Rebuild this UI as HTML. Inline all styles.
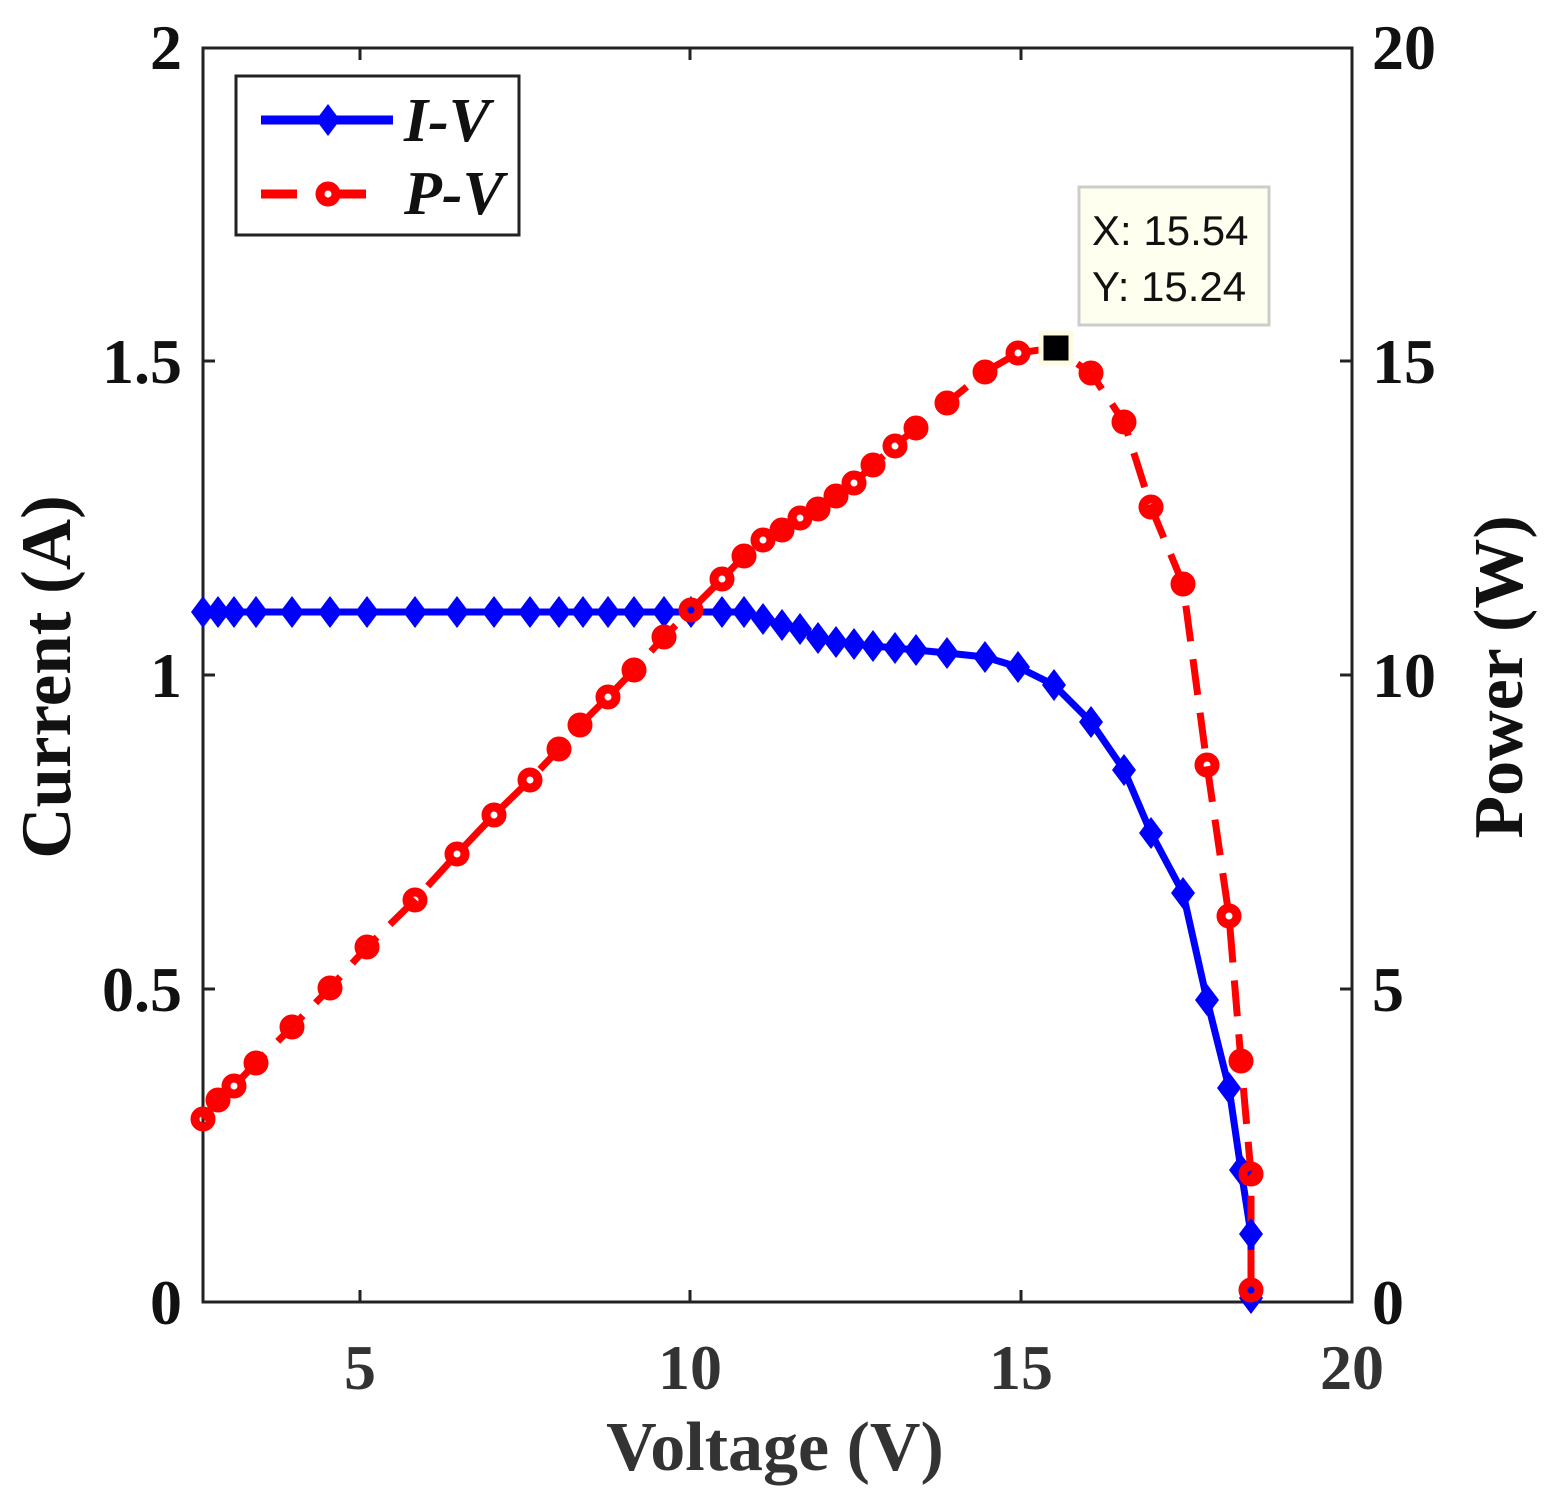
<!DOCTYPE html>
<html><head><style>body{margin:0;background:#fff}svg{display:block}</style></head><body>
<svg width="1553" height="1510" xmlns="http://www.w3.org/2000/svg" font-family="Liberation Serif, serif" font-weight="bold">
<rect width="1553" height="1510" fill="#fff"/>
<g stroke="#222" stroke-width="3">
<rect x="203" y="48" width="1149" height="1254" fill="none"/>
<path d="M360 1302v-12M690 1302v-12M1021 1302v-12M360 48v12M690 48v12M1021 48v12M203 361h12M203 675h12M203 989h12M1352 361h-12M1352 675h-12M1352 989h-12"/>
</g>
<g font-size="64" fill="#111" text-anchor="end">
<text x="182" y="69">2</text><text x="182" y="383">1.5</text><text x="182" y="697">1</text><text x="182" y="1011">0.5</text><text x="182" y="1324">0</text>
</g>
<g font-size="64" fill="#111" text-anchor="start">
<text x="1372" y="69">20</text><text x="1372" y="383">15</text><text x="1372" y="697">10</text><text x="1372" y="1011">5</text><text x="1372" y="1324">0</text>
</g>
<g font-size="64" fill="#333" text-anchor="middle">
<text x="360" y="1389">5</text><text x="690" y="1389">10</text><text x="1021" y="1389">15</text><text x="1352" y="1389">20</text>
</g>
<text x="775" y="1470" font-size="70" fill="#333" text-anchor="middle">Voltage (V)</text>
<text transform="translate(70,677) rotate(-90)" font-size="71" fill="#111" text-anchor="middle">Current (A)</text>
<text transform="translate(1522,677) rotate(-90)" font-size="70" fill="#111" text-anchor="middle">Power (W)</text>
<polyline fill="none" stroke="#0000ff" stroke-width="7" stroke-linejoin="round" points="203,612 218,612 234,612 256,612 292,612 330,612 367,612 415,612 457,612 494,612 530,612 559,612 583,612 608,612 634,612 664,612 691,612 722,612 744,612 763,619 782,625 800,629 818,638 836,642 854,644 873,646 895,648 916,650 947,653 985,657 1018,667 1054,685 1091,722 1124,770 1151,833 1183,893 1207,1000 1229,1088 1241,1170 1251,1234 1251,1298"/>
<polyline fill="none" stroke="#ff0000" stroke-width="7" stroke-dasharray="36,18" points="203,1119 218,1100 234,1086 256,1063 292,1027 330,988 367,947 415,900 457,854 494,815 530,780 559,749 580,725 608,697 634,670 664,637 691,610 722,579 744,556 763,540 782,530 800,518 818,509 836,496 854,483 873,465 895,446 916,428 947,403 985,372 1018,353 1054,348 1091,373 1124,422 1151,507 1183,584 1207,765 1229,916 1241,1061 1251,1174 1251,1290"/>
<g fill="#0000ff">
<path d="M203 596l12 16-12 16-12-16zM218 596l12 16-12 16-12-16zM234 596l12 16-12 16-12-16zM256 596l12 16-12 16-12-16zM292 596l12 16-12 16-12-16zM330 596l12 16-12 16-12-16zM367 596l12 16-12 16-12-16zM415 596l12 16-12 16-12-16zM457 596l12 16-12 16-12-16zM494 596l12 16-12 16-12-16zM530 596l12 16-12 16-12-16zM559 596l12 16-12 16-12-16zM583 596l12 16-12 16-12-16zM608 596l12 16-12 16-12-16zM634 596l12 16-12 16-12-16zM664 596l12 16-12 16-12-16zM691 596l12 16-12 16-12-16zM722 596l12 16-12 16-12-16zM744 596l12 16-12 16-12-16zM763 603l12 16-12 16-12-16zM782 609l12 16-12 16-12-16zM800 613l12 16-12 16-12-16zM818 622l12 16-12 16-12-16zM836 626l12 16-12 16-12-16zM854 628l12 16-12 16-12-16zM873 630l12 16-12 16-12-16zM895 632l12 16-12 16-12-16zM916 634l12 16-12 16-12-16zM947 637l12 16-12 16-12-16zM985 641l12 16-12 16-12-16zM1018 651l12 16-12 16-12-16zM1054 669l12 16-12 16-12-16zM1091 706l12 16-12 16-12-16zM1124 754l12 16-12 16-12-16zM1151 817l12 16-12 16-12-16zM1183 877l12 16-12 16-12-16zM1207 984l12 16-12 16-12-16zM1229 1072l12 16-12 16-12-16zM1241 1154l12 16-12 16-12-16zM1251 1218l12 16-12 16-12-16zM1251 1282l12 16-12 16-12-16z"/>
</g>
<g fill="none" stroke="#ff0000" stroke-width="9">
<circle cx="203" cy="1119" r="8"/><circle cx="218" cy="1100" r="8"/><circle cx="234" cy="1086" r="8"/><circle cx="256" cy="1063" r="8"/><circle cx="292" cy="1027" r="8"/><circle cx="330" cy="988" r="8"/><circle cx="367" cy="947" r="8"/><circle cx="415" cy="900" r="8"/><circle cx="457" cy="854" r="8"/><circle cx="494" cy="815" r="8"/><circle cx="530" cy="780" r="8"/><circle cx="559" cy="749" r="8"/><circle cx="580" cy="725" r="8"/><circle cx="608" cy="697" r="8"/><circle cx="634" cy="670" r="8"/><circle cx="664" cy="637" r="8"/><circle cx="691" cy="610" r="8"/><circle cx="722" cy="579" r="8"/><circle cx="744" cy="556" r="8"/><circle cx="763" cy="540" r="8"/><circle cx="782" cy="530" r="8"/><circle cx="800" cy="518" r="8"/><circle cx="818" cy="509" r="8"/><circle cx="836" cy="496" r="8"/><circle cx="854" cy="483" r="8"/><circle cx="873" cy="465" r="8"/><circle cx="895" cy="446" r="8"/><circle cx="916" cy="428" r="8"/><circle cx="947" cy="403" r="8"/><circle cx="985" cy="372" r="8"/><circle cx="1018" cy="353" r="8"/><circle cx="1091" cy="373" r="8"/><circle cx="1124" cy="422" r="8"/><circle cx="1151" cy="507" r="8"/><circle cx="1183" cy="584" r="8"/><circle cx="1207" cy="765" r="8"/><circle cx="1229" cy="916" r="8"/><circle cx="1241" cy="1061" r="8"/><circle cx="1251" cy="1174" r="8"/><circle cx="1251" cy="1290" r="8"/>
</g>
<rect x="1041" y="333" width="30" height="30" fill="#000" stroke="#fffbe0" stroke-width="5"/>
<rect x="1079" y="187" width="190" height="138" fill="#ffffef" stroke="#ccc" stroke-width="3"/>
<g font-family="Liberation Sans, sans-serif" font-weight="normal" font-size="42" fill="#111">
<text x="1092" y="245">X: 15.54</text><text x="1092" y="301">Y: 15.24</text>
</g>
<rect x="236" y="76" width="283" height="159" fill="#fff" stroke="#222" stroke-width="3"/>
<path d="M261 120h132" stroke="#0000ff" stroke-width="9"/>
<path d="M328 104l12 16-12 16-12-16z" fill="#0000ff"/>
<path d="M261 194h36M333 194h33" stroke="#ff0000" stroke-width="9"/>
<circle cx="328" cy="194" r="8" fill="none" stroke="#ff0000" stroke-width="9"/>
<g font-size="62" font-style="italic" fill="#111">
<text x="404" y="141">I-V</text><text x="404" y="214">P-V</text>
</g>
</svg>
</body></html>
